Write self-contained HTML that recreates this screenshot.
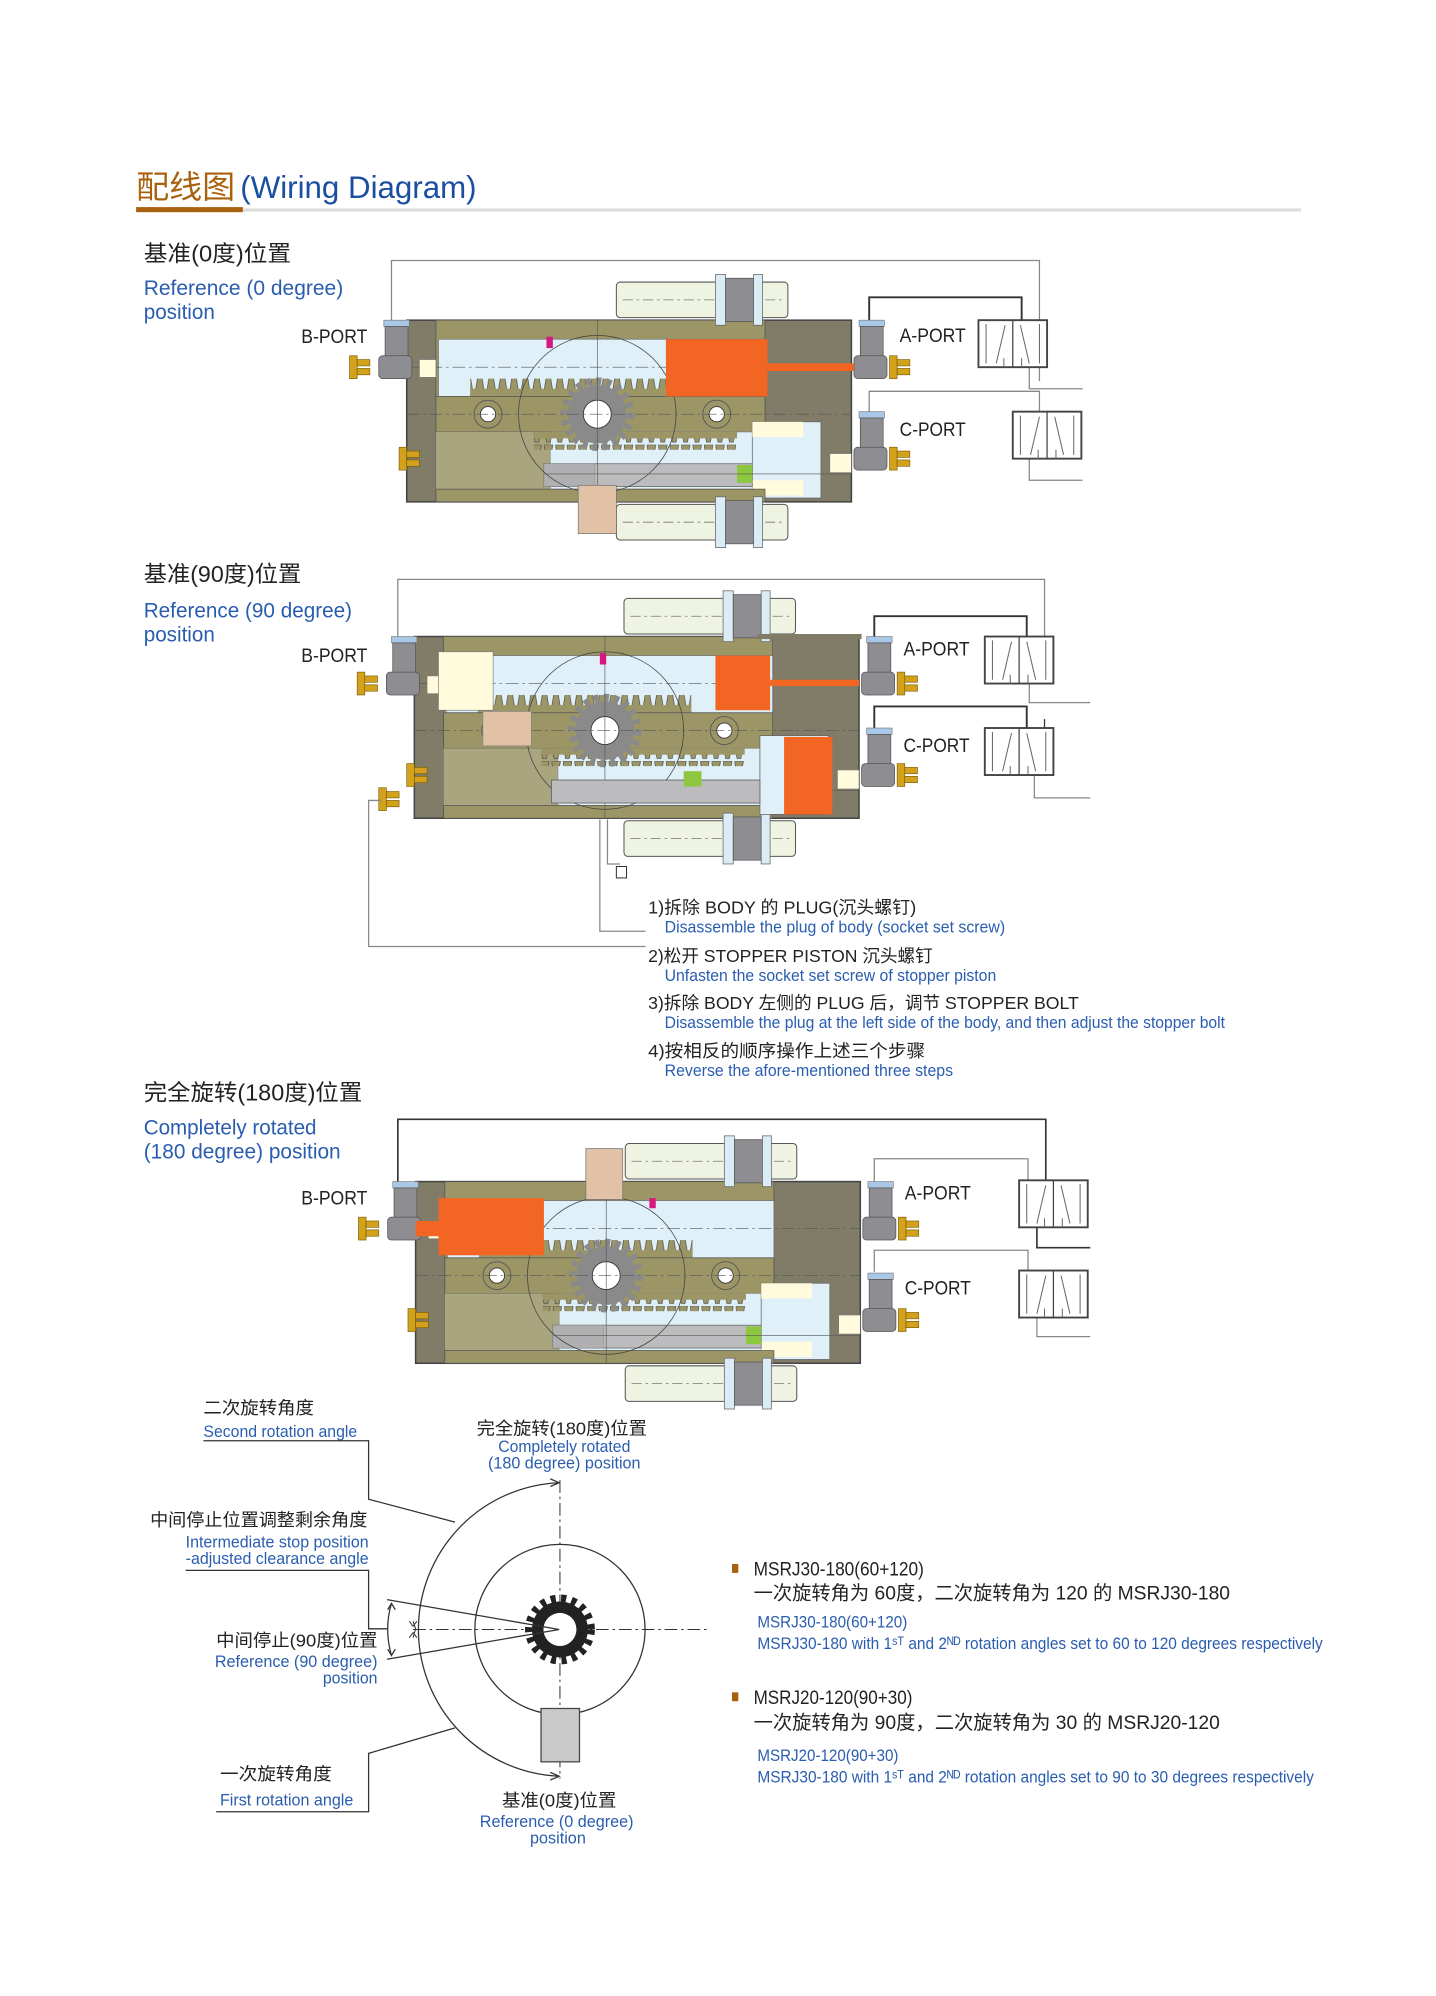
<!DOCTYPE html>
<html><head><meta charset="utf-8"><style>
html,body{margin:0;padding:0;background:#fff}
svg{display:block}
text{font-family:"Liberation Sans","Noto Sans CJK SC",sans-serif}
.k{fill:#222}
.b{fill:#2a5db0}
</style></head><body>
<svg width="1436" height="1996" viewBox="0 0 1130 1571" xmlns="http://www.w3.org/2000/svg">
<defs>
<pattern id="teeth" width="9" height="14" patternUnits="userSpaceOnUse">
<path d="M0 14 L2 2 L5 2 L7 14 Z" fill="#9c9566" stroke="#444" stroke-width="0.5"/>
</pattern>
<pattern id="teethd" width="9" height="14" patternUnits="userSpaceOnUse">
<path d="M0 0 L2 12 L5 12 L7 0 Z" fill="#9c9566" stroke="#444" stroke-width="0.5"/>
</pattern>
<g id="valve">
<rect x="0" y="0" width="54" height="37" fill="#fff" stroke="#444" stroke-width="1.5"/>
<line x1="27" y1="0" x2="27" y2="37" stroke="#444" stroke-width="1"/>
<path d="M6 3 V34 M14 34 L21 4 M33 4 L40 34 M48 3 V34 M20 30 V37 M34 30 V37" stroke="#666" stroke-width="0.8" fill="none"/>
</g>
<g id="port">
<rect x="0" y="0" width="20" height="5" fill="#a9c8e8" stroke="#777" stroke-width="0.5"/>
<rect x="1" y="5" width="18" height="25" fill="#8e8e92" stroke="#555" stroke-width="0.6"/>
<rect x="-4" y="28" width="26" height="18" rx="3" fill="#8e8e92" stroke="#555" stroke-width="0.6"/>
</g>
<g id="brass">
<rect x="0" y="0" width="6" height="18" fill="#d3a21c" stroke="#7a5a00" stroke-width="0.5"/>
<rect x="6" y="3" width="10" height="5" fill="#d3a21c" stroke="#7a5a00" stroke-width="0.5"/>
<rect x="6" y="10" width="10" height="5" fill="#d3a21c" stroke="#7a5a00" stroke-width="0.5"/>
</g>
<g id="tube">
<rect x="0" y="0" width="135" height="28" rx="3" fill="#eef3e2" stroke="#555" stroke-width="0.8"/>
<line x1="5" y1="14" x2="130" y2="14" stroke="#777" stroke-width="0.6" stroke-dasharray="8 3 2 3"/>
<rect x="78" y="-6" width="8" height="40" fill="#dcecf6" stroke="#666" stroke-width="0.6"/>
<rect x="86" y="-3" width="22" height="34" fill="#8e8e92" stroke="#555" stroke-width="0.6"/>
<rect x="108" y="-6" width="7" height="40" fill="#dcecf6" stroke="#666" stroke-width="0.6"/>
</g>
<g id="act">
<rect x="0" y="0" width="350" height="143" fill="#807c68" stroke="#444" stroke-width="1.2"/>
<rect x="23" y="0" width="259" height="143" fill="#9c9566" stroke="#555" stroke-width="0.6"/>
<rect x="25" y="15" width="257" height="45" fill="#dff0f8" stroke="#777" stroke-width="0.6"/>
<rect x="50" y="46" width="168" height="14" fill="url(#teeth)"/>
<rect x="50" y="54" width="168" height="6" fill="#9c9566"/>
<rect x="23" y="60" width="259" height="28" fill="#9c9566" stroke="#555" stroke-width="0.6"/>
<rect x="23" y="88" width="90" height="45" fill="#a9a57f"/>
<rect x="113" y="88" width="160" height="45" fill="#dff0f8" stroke="#888" stroke-width="0.5"/>
<rect x="272" y="80" width="54" height="60" fill="#dff0f8" stroke="#666" stroke-width="0.6"/>
<rect x="272" y="80" width="40" height="12" fill="#fffbdc"/>
<rect x="272" y="126" width="40" height="12" fill="#fffbdc"/>
<rect x="100" y="88" width="160" height="14" fill="url(#teethd)"/>
<rect x="100" y="88" width="160" height="5" fill="#9c9566"/>
<rect x="108" y="113" width="164" height="18" fill="#bcbcbe" stroke="#666" stroke-width="0.6"/>
<rect x="108" y="113" width="40" height="18" fill="#b0b0b2" stroke="#777" stroke-width="0.5" stroke-dasharray="1 1"/>
<rect x="260" y="114" width="12" height="14" fill="#8dc63f"/>
<rect x="23" y="133" width="259" height="10" fill="#9c9566" stroke="#555" stroke-width="0.6"/>
<circle cx="64" cy="74" r="11" fill="#9c9566" stroke="#555" stroke-width="0.7"/>
<circle cx="64" cy="74" r="6" fill="#fff" stroke="#333" stroke-width="0.7"/>
<circle cx="244" cy="74" r="11" fill="#9c9566" stroke="#555" stroke-width="0.7"/>
<circle cx="244" cy="74" r="6" fill="#fff" stroke="#333" stroke-width="0.7"/>
<circle cx="150" cy="74" r="23" fill="#8a8a8a"/>
<circle cx="150" cy="74" r="26" fill="none" stroke="#8a8a8a" stroke-width="6" stroke-dasharray="4 4.1"/>
<circle cx="150" cy="74" r="11" fill="#fff" stroke="#333" stroke-width="0.7"/>
<circle cx="150" cy="74" r="62" fill="none" stroke="#444" stroke-width="0.6"/>
<line x1="150" y1="0" x2="150" y2="143" stroke="#555" stroke-width="0.5"/>
<line x1="0" y1="37" x2="350" y2="37" stroke="#555" stroke-width="0.5" stroke-dasharray="10 3 2 3"/>
<line x1="0" y1="74" x2="350" y2="74" stroke="#555" stroke-width="0.5" stroke-dasharray="10 3 2 3"/>
<line x1="108" y1="121" x2="350" y2="121" stroke="#555" stroke-width="0.5"/>
<rect x="10" y="31" width="13" height="14" fill="#fffbdc" stroke="#777" stroke-width="0.5"/>
<rect x="333" y="105" width="17" height="15" fill="#fffbdc" stroke="#777" stroke-width="0.5"/>
<use href="#tube" x="165" y="-30"/>
<use href="#tube" x="165" y="145"/>
<use href="#port" x="-18" y="0"/>
<use href="#brass" x="-45" y="28"/>
<use href="#port" x="356" y="0"/>
<use href="#brass" x="380" y="28"/>
<use href="#port" x="356" y="72"/>
<use href="#brass" x="380" y="100"/>
<use href="#brass" x="-6" y="100"/>
</g>
</defs>

<!-- Title -->
<text x="107" y="156" font-size="25" fill="#a8620f" textLength="78" lengthAdjust="spacingAndGlyphs">配线图</text>
<text x="189" y="156" font-size="25" fill="#1a4fa0" textLength="186" lengthAdjust="spacingAndGlyphs">(Wiring Diagram)</text>
<rect x="190" y="164" width="834" height="2.5" fill="#dcdcdc"/>
<rect x="107" y="163" width="84" height="4" fill="#a8620f"/>

<!-- Section 1 -->
<text x="113" y="206" font-size="18" class="k" textLength="116" lengthAdjust="spacingAndGlyphs">基准(0度)位置</text>
<text x="113" y="232" font-size="17" class="b" textLength="157" lengthAdjust="spacingAndGlyphs">Reference (0 degree)</text>
<text x="113" y="251" font-size="17" class="b" textLength="56" lengthAdjust="spacingAndGlyphs">position</text>
<text x="237" y="270" font-size="15" class="k" textLength="52" lengthAdjust="spacingAndGlyphs">B-PORT</text>
<text x="708" y="269" font-size="15" class="k" textLength="52" lengthAdjust="spacingAndGlyphs">A-PORT</text>
<text x="708" y="343" font-size="15" class="k" textLength="52" lengthAdjust="spacingAndGlyphs">C-PORT</text>
<path d="M308 252 V205 H818 V252 M818 289 V300" stroke="#888" fill="none" stroke-width="1"/>
<path d="M684 252 V234 H804 V252" stroke="#333" fill="none" stroke-width="1.5"/>
<path d="M810 289 V306 H852" stroke="#888" fill="none" stroke-width="1"/>
<path d="M684 324 V308 H818 V324 M810 361 V378 H852" stroke="#888" fill="none" stroke-width="1"/>
<use href="#valve" x="770" y="252"/>
<use href="#valve" x="797" y="324"/>
<g transform="translate(320,252)">
<use href="#act"/>
<rect x="204" y="15" width="80" height="45" fill="#f26522"/>
<rect x="282" y="34" width="70" height="6" fill="#f26522"/>
<rect x="110" y="13" width="5" height="9" fill="#d6187f"/>
<rect x="135" y="130" width="30" height="38" fill="#e2c2a6" stroke="#777" stroke-width="0.6"/>
</g>

<!-- Section 2 -->
<text x="113" y="458" font-size="18" class="k" textLength="124" lengthAdjust="spacingAndGlyphs">基准(90度)位置</text>
<text x="113" y="486" font-size="17" class="b" textLength="164" lengthAdjust="spacingAndGlyphs">Reference (90 degree)</text>
<text x="113" y="505" font-size="17" class="b" textLength="56" lengthAdjust="spacingAndGlyphs">position</text>
<text x="237" y="521" font-size="15" class="k" textLength="52" lengthAdjust="spacingAndGlyphs">B-PORT</text>
<text x="711" y="516" font-size="15" class="k" textLength="52" lengthAdjust="spacingAndGlyphs">A-PORT</text>
<text x="711" y="592" font-size="15" class="k" textLength="52" lengthAdjust="spacingAndGlyphs">C-PORT</text>
<path d="M313 501 V456 H822 V501 M810 538 V553 H858" stroke="#888" fill="none" stroke-width="1"/>
<path d="M688 501 V485 H808 V501 M688 573 V556 H808 V573" stroke="#333" fill="none" stroke-width="1.5"/>
<path d="M814 610 V628 H858" stroke="#888" fill="none" stroke-width="1"/>
<path d="M822 566 V573" stroke="#333" stroke-width="1"/>
<use href="#valve" x="775" y="501"/>
<use href="#valve" x="775" y="573"/>
<g transform="translate(326,501)">
<use href="#act"/>
<rect x="19" y="12" width="43" height="46" fill="#fffbdc" stroke="#777" stroke-width="0.5"/>
<rect x="237" y="15" width="43" height="43" fill="#f26522"/>
<rect x="280" y="34" width="70" height="5" fill="#f26522"/>
<rect x="272" y="78" width="54" height="62" fill="#dff0f8" stroke="#666" stroke-width="0.6"/>
<rect x="291" y="79" width="38" height="61" fill="#f26522"/>
<rect x="108" y="113" width="164" height="18" fill="#bcbcbe" stroke="#666" stroke-width="0.6"/>
<rect x="212" y="106" width="14" height="12" fill="#8dc63f"/>
<rect x="54" y="59" width="38" height="27" fill="#e2c2a6" stroke="#888" stroke-width="0.5"/>
<rect x="146" y="13" width="5" height="9" fill="#d6187f"/>
<rect x="270" y="-2" width="82" height="4" fill="#807c68"/>
</g>
<use href="#brass" x="298" y="620"/>
<path d="M300 630 H290 V745 H508" stroke="#888" fill="none" stroke-width="1"/>
<path d="M472 645 V733 H508" stroke="#888" fill="none" stroke-width="1"/>
<path d="M478 645 V680 H488" stroke="#888" fill="none" stroke-width="1"/>
<rect x="485" y="682" width="8" height="9" fill="#fff" stroke="#333" stroke-width="0.8"/>

<text x="510" y="719" font-size="14" class="k" textLength="211" lengthAdjust="spacingAndGlyphs">1)拆除 BODY 的 PLUG(沉头螺钉)</text>
<text x="523" y="734" font-size="13" class="b" textLength="268" lengthAdjust="spacingAndGlyphs">Disassemble the plug of body (socket set screw)</text>
<text x="510" y="757" font-size="14" class="k" textLength="224" lengthAdjust="spacingAndGlyphs">2)松开 STOPPER PISTON 沉头螺钉</text>
<text x="523" y="772" font-size="13" class="b" textLength="261" lengthAdjust="spacingAndGlyphs">Unfasten the socket set screw of stopper piston</text>
<text x="510" y="794" font-size="14" class="k" textLength="339" lengthAdjust="spacingAndGlyphs">3)拆除 BODY 左侧的 PLUG 后，调节 STOPPER BOLT</text>
<text x="523" y="809" font-size="13" class="b" textLength="441" lengthAdjust="spacingAndGlyphs">Disassemble the plug at the left side of the body, and then adjust the stopper bolt</text>
<text x="510" y="832" font-size="14" class="k" textLength="218" lengthAdjust="spacingAndGlyphs">4)按相反的顺序操作上述三个步骤</text>
<text x="523" y="847" font-size="13" class="b" textLength="227" lengthAdjust="spacingAndGlyphs">Reverse the afore-mentioned three steps</text>

<!-- Section 3 -->
<text x="113" y="866" font-size="18" class="k" textLength="172" lengthAdjust="spacingAndGlyphs">完全旋转(180度)位置</text>
<text x="113" y="893" font-size="17" class="b" textLength="136" lengthAdjust="spacingAndGlyphs">Completely rotated</text>
<text x="113" y="912" font-size="17" class="b" textLength="155" lengthAdjust="spacingAndGlyphs">(180 degree) position</text>
<text x="237" y="948" font-size="15" class="k" textLength="52" lengthAdjust="spacingAndGlyphs">B-PORT</text>
<text x="712" y="944" font-size="15" class="k" textLength="52" lengthAdjust="spacingAndGlyphs">A-PORT</text>
<text x="712" y="1019" font-size="15" class="k" textLength="52" lengthAdjust="spacingAndGlyphs">C-PORT</text>
<path d="M313 930 V881 H823 V929 M816 966 V982 H858" stroke="#333" fill="none" stroke-width="1.3"/>
<path d="M688 930 V912 H809 V929 M688 1001 V984 H809 V1000 M816 1037 V1052 H858" stroke="#888" fill="none" stroke-width="1"/>
<use href="#valve" x="802" y="929"/>
<use href="#valve" x="802" y="1000"/>
<g transform="translate(327,930)">
<use href="#act"/>
<rect x="18" y="13" width="83" height="45" fill="#f26522"/>
<rect x="0" y="31" width="18" height="12" fill="#f26522"/>
<rect x="134" y="-26" width="29" height="40" fill="#e2c2a6" stroke="#777" stroke-width="0.6"/>
<rect x="184" y="13" width="5" height="8" fill="#d6187f"/>
</g>

<!-- Bottom rotation diagram -->
<text x="160" y="1113" font-size="14" class="k" textLength="87" lengthAdjust="spacingAndGlyphs">二次旋转角度</text>
<text x="160" y="1131" font-size="13" class="b" textLength="121" lengthAdjust="spacingAndGlyphs">Second rotation angle</text>
<path d="M160 1134 H290 V1180 L358 1198" stroke="#333" fill="none" stroke-width="1"/>
<text x="442" y="1129" font-size="14" class="k" text-anchor="middle" textLength="134" lengthAdjust="spacingAndGlyphs">完全旋转(180度)位置</text>
<text x="444" y="1143" font-size="13" class="b" text-anchor="middle" textLength="104" lengthAdjust="spacingAndGlyphs">Completely rotated</text>
<text x="444" y="1156" font-size="13" class="b" text-anchor="middle" textLength="120" lengthAdjust="spacingAndGlyphs">(180 degree) position</text>
<text x="118" y="1201" font-size="14" class="k" textLength="171" lengthAdjust="spacingAndGlyphs">中间停止位置调整剩余角度</text>
<text x="290" y="1218" font-size="13" class="b" text-anchor="end" textLength="144" lengthAdjust="spacingAndGlyphs">Intermediate stop position</text>
<text x="290" y="1231" font-size="13" class="b" text-anchor="end" textLength="144" lengthAdjust="spacingAndGlyphs">-adjusted clearance angle</text>
<path d="M146 1236 H290 V1282 H305" stroke="#333" fill="none" stroke-width="1"/>
<text x="297" y="1296" font-size="14" class="k" text-anchor="end" textLength="127" lengthAdjust="spacingAndGlyphs">中间停止(90度)位置</text>
<text x="297" y="1312" font-size="13" class="b" text-anchor="end" textLength="128" lengthAdjust="spacingAndGlyphs">Reference (90 degree)</text>
<text x="297" y="1325" font-size="13" class="b" text-anchor="end" textLength="43" lengthAdjust="spacingAndGlyphs">position</text>
<text x="173" y="1401" font-size="14" class="k" textLength="88" lengthAdjust="spacingAndGlyphs">一次旋转角度</text>
<text x="173" y="1421" font-size="13" class="b" textLength="105" lengthAdjust="spacingAndGlyphs">First rotation angle</text>
<path d="M170 1426 H290 V1380 L358 1360" stroke="#333" fill="none" stroke-width="1"/>
<text x="440" y="1422" font-size="14" class="k" text-anchor="middle" textLength="90" lengthAdjust="spacingAndGlyphs">基准(0度)位置</text>
<text x="438" y="1438" font-size="13" class="b" text-anchor="middle" textLength="121" lengthAdjust="spacingAndGlyphs">Reference (0 degree)</text>
<text x="439" y="1451" font-size="13" class="b" text-anchor="middle" textLength="44" lengthAdjust="spacingAndGlyphs">position</text>

<path d="M440 1167 A115.6 115.6 0 0 0 440 1398" stroke="#333" fill="none" stroke-width="1"/>
<path d="M433 1164 L440 1167 L433 1170" stroke="#333" fill="none" stroke-width="1"/>
<path d="M433 1395 L440 1398 L433 1401" stroke="#333" fill="none" stroke-width="1"/>
<circle cx="440.6" cy="1282.5" r="67" fill="none" stroke="#333" stroke-width="1"/>
<line x1="440.6" y1="1165" x2="440.6" y2="1400" stroke="#333" stroke-width="0.8" stroke-dasharray="10 3 2 3"/>
<line x1="325" y1="1282.5" x2="556" y2="1282.5" stroke="#333" stroke-width="0.8" stroke-dasharray="10 3 2 3"/>
<rect x="425.7" y="1344.7" width="30.3" height="42" fill="#c9c9c9" stroke="#444" stroke-width="1"/>
<circle cx="440.6" cy="1282.5" r="22" fill="#222"/>
<circle cx="440.6" cy="1282.5" r="24.5" fill="none" stroke="#222" stroke-width="6" stroke-dasharray="4 4.3"/>
<circle cx="440.6" cy="1282.5" r="13" fill="#fff"/>
<path d="M304.5 1259 L440 1282.5 L304.5 1306" stroke="#333" fill="none" stroke-width="1"/>
<path d="M308 1262 Q302 1282 308 1303" stroke="#333" fill="none" stroke-width="1"/>
<path d="M305 1267 L308 1262 L311 1267 M305 1298 L308 1303 L311 1298" stroke="#333" fill="none" stroke-width="1"/>
<path d="M325 1276 L327 1282 L325 1289 M322 1276 L325 1280 L328 1276 M322 1289 L325 1285 L328 1289" stroke="#333" fill="none" stroke-width="0.8"/>

<!-- Right notes -->
<rect x="576" y="1231" width="5" height="7" fill="#a8620f"/>
<text x="593" y="1240" font-size="15" class="k" textLength="134" lengthAdjust="spacingAndGlyphs">MSRJ30-180(60+120)</text>
<text x="593" y="1259" font-size="15" class="k" textLength="375" lengthAdjust="spacingAndGlyphs">一次旋转角为  60度，二次旋转角为  120  的   MSRJ30-180</text>
<text x="596" y="1281" font-size="13" class="b" textLength="118" lengthAdjust="spacingAndGlyphs">MSRJ30-180(60+120)</text>
<text x="596" y="1298" font-size="13" class="b" textLength="445" lengthAdjust="spacingAndGlyphs">MSRJ30-180 with 1ˢᵀ and 2ᴺᴰ rotation angles set to 60 to 120 degrees respectively</text>
<rect x="576" y="1332" width="5" height="7" fill="#a8620f"/>
<text x="593" y="1341" font-size="15" class="k" textLength="125" lengthAdjust="spacingAndGlyphs">MSRJ20-120(90+30)</text>
<text x="593" y="1361" font-size="15" class="k" textLength="367" lengthAdjust="spacingAndGlyphs">一次旋转角为  90度，二次旋转角为  30  的   MSRJ20-120</text>
<text x="596" y="1386" font-size="13" class="b" textLength="111" lengthAdjust="spacingAndGlyphs">MSRJ20-120(90+30)</text>
<text x="596" y="1403" font-size="13" class="b" textLength="438" lengthAdjust="spacingAndGlyphs">MSRJ30-180 with 1ˢᵀ and 2ᴺᴰ rotation angles set to 90 to 30 degrees respectively</text>
</svg>
</body></html>
